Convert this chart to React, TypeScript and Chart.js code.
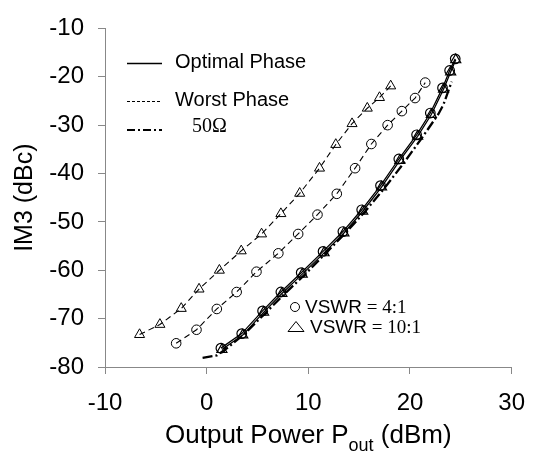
import React, { useEffect, useRef } from "react";
import { Chart, registerables } from "chart.js";

Chart.register(...registerables);

const SANS = "'Liberation Sans', Arial, Helvetica, sans-serif";
const SERIF = "'Liberation Serif', 'Times New Roman', serif";

// Worst phase, VSWR = 10:1 (triangles)
const worst10X = [-6.6, -4.6, -2.5, -0.75, 1.25, 3.4, 5.4, 7.3, 9.15, 11.1, 12.7, 14.3, 15.8, 17.0, 18.1];
const worst10Y = [-73.3, -71.2, -67.9, -63.9, -60.0, -56.0, -52.5, -48.3, -44.1, -38.9, -34.0, -29.7, -26.5, -24.3, -21.9];

// Worst phase, VSWR = 4:1 (circles)
const worst4X = [-3.0, -1.0, 1.0, 2.95, 4.9, 7.05, 9.0, 10.9, 12.8, 14.6, 16.2, 17.8, 19.2, 20.5, 21.5];
const worst4Y = [-75.1, -72.3, -68.0, -64.5, -60.3, -56.5, -52.5, -48.5, -44.2, -38.9, -33.9, -30.0, -27.1, -24.4, -21.2];

// Optimal phase, VSWR = 4:1 (circles)
const opt4X = [1.4, 3.45, 5.5, 7.3, 9.3, 11.45, 13.4, 15.25, 17.1, 18.9, 20.65, 22.0, 23.2, 23.9, 24.45];
const opt4Y = [-76.1, -73.1, -68.4, -64.5, -60.5, -56.1, -52.0, -47.5, -42.5, -37.0, -32.0, -27.5, -22.3, -18.7, -16.3];

// Optimal phase, VSWR = 10:1 (triangles)
const opt10X = [1.5, 3.55, 5.6, 7.4, 9.4, 11.55, 13.5, 15.35, 17.2, 19.0, 20.75, 22.1, 23.3, 24.0, 24.5];
const opt10Y = [-76.4, -73.4, -68.7, -64.8, -60.8, -56.4, -52.3, -47.8, -42.8, -37.3, -32.3, -27.8, -22.6, -19.0, -16.5];

// 50 Ohm
const ohm50X = [-0.4, 1.0, 2.2, 3.8, 5.8, 7.7, 9.7, 11.8, 13.7, 15.6, 17.5, 19.4, 21.15, 22.8, 23.3, 24.1];
const ohm50Y = [-78.1, -77.6, -75.8, -73.0, -68.8, -64.8, -60.8, -56.3, -52.2, -47.8, -43.0, -37.8, -32.7, -27.7, -25.7, -21.0];

const xTicks = [-10, 0, 10, 20, 30];
const yTicks = [-80, -70, -60, -50, -40, -30, -20, -10];

const zip = (xs: number[], ys: number[]) => xs.map((x, i) => ({ x, y: ys[i] }));

const overlayPlugin = {
  id: "overlay",
  afterDraw(chart: any) {
    const ctx: CanvasRenderingContext2D = chart.ctx;
    const area = chart.chartArea;
    ctx.save();
    ctx.fillStyle = "#000";
    ctx.strokeStyle = "#000";

    // X axis title with subscript
    const main1 = "Output Power P";
    const sub = "out";
    const main2 = " (dBm)";
    const mainFont = `26px ${SANS}`;
    const subFont = `18px ${SANS}`;
    ctx.font = mainFont;
    const w1 = ctx.measureText(main1).width;
    const w3 = ctx.measureText(main2).width;
    ctx.font = subFont;
    const w2 = ctx.measureText(sub).width;
    const total = w1 + w2 + w3;
    const x0 = (area.left + area.right) / 2 - total / 2;
    ctx.textBaseline = "alphabetic";
    ctx.textAlign = "left";
    ctx.font = mainFont;
    ctx.fillText(main1, x0, 443);
    ctx.font = subFont;
    ctx.fillText(sub, x0 + w1, 451);
    ctx.font = mainFont;
    ctx.fillText(main2, x0 + w1 + w2, 443);

    // Legend (line styles)
    const drawLine = (y: number, dash: number[], width: number) => {
      ctx.beginPath();
      ctx.setLineDash(dash);
      ctx.lineWidth = width;
      ctx.moveTo(127, y);
      ctx.lineTo(162, y);
      ctx.stroke();
      ctx.setLineDash([]);
    };
    drawLine(63.5, [], 1.3);
    drawLine(101.5, [3, 2], 1);
    drawLine(130, [8, 3, 2, 3], 2.2);
    ctx.textBaseline = "middle";
    ctx.font = `20px ${SANS}`;
    ctx.fillText("Optimal Phase", 175, 62);
    ctx.fillText("Worst Phase", 175, 100);
    ctx.font = `20px ${SERIF}`;
    ctx.fillText("50Ω", 192, 127);

    // Marker legend
    ctx.lineWidth = 1;
    ctx.beginPath();
    ctx.arc(295, 307, 4.5, 0, Math.PI * 2);
    ctx.stroke();
    ctx.beginPath();
    ctx.moveTo(288, 331.5);
    ctx.lineTo(304, 331.5);
    ctx.lineTo(296, 321.5);
    ctx.closePath();
    ctx.stroke();

    const vswr = (x: number, y: number, ratio: string) => {
      ctx.font = `19px ${SANS}`;
      ctx.fillText("VSWR", x, y);
      const w = ctx.measureText("VSWR").width;
      ctx.font = `19px ${SERIF}`;
      ctx.fillText(" = " + ratio, x + w, y);
    };
    vswr(305, 308, "4:1");
    vswr(310, 328, "10:1");
    ctx.restore();
  },
};

export default function App() {
  const canvasRef = useRef<HTMLCanvasElement | null>(null);

  useEffect(() => {
    if (!canvasRef.current) return;
    const common = {
      borderColor: "#000",
      pointBorderColor: "#000",
      pointBackgroundColor: "rgba(0,0,0,0)",
      fill: false,
      tension: 0,
      showLine: true,
    };
    const chart = new Chart(canvasRef.current, {
      type: "scatter",
      data: {
        datasets: [
          {
            ...common,
            label: "Worst 10:1",
            data: zip(worst10X, worst10Y),
            borderWidth: 1.1,
            borderDash: [6, 4],
            pointStyle: "triangle",
            pointRadius: 5.8,
            pointBorderWidth: 1,
          },
          {
            ...common,
            label: "Worst 4:1",
            data: zip(worst4X, worst4Y),
            borderWidth: 1.1,
            borderDash: [6, 4],
            pointStyle: "circle",
            pointRadius: 4.8,
            pointBorderWidth: 1,
          },
          {
            ...common,
            label: "Optimal 4:1",
            data: zip(opt4X, opt4Y),
            borderWidth: 1.3,
            pointStyle: "circle",
            pointRadius: 4.8,
            pointBorderWidth: 1.2,
          },
          {
            ...common,
            label: "Optimal 10:1",
            data: zip(opt10X, opt10Y),
            borderWidth: 1.3,
            pointStyle: "triangle",
            pointRadius: 5.8,
            pointBorderWidth: 1.2,
          },
          {
            ...common,
            label: "50Ω",
            data: zip(ohm50X, ohm50Y),
            borderWidth: 2.3,
            borderDash: [10, 3, 2, 3],
            pointRadius: 0,
            pointHoverRadius: 0,
          },
        ],
      },
      options: {
        animation: false,
        responsive: false,
        devicePixelRatio: 1,
        layout: { padding: { top: 17, right: 28, left: 0, bottom: 0 } },
        plugins: {
          legend: { display: false },
          tooltip: { enabled: false },
          title: { display: false },
        },
        scales: {
          x: {
            type: "linear",
            min: -10,
            max: 30,
            afterBuildTicks: (scale: any) => {
              scale.ticks = xTicks.map((v) => ({ value: v }));
            },
            afterFit: (scale: any) => {
              scale.height = 86;
            },
            ticks: {
              color: "#000",
              font: { size: 24, family: SANS },
              padding: 15,
              maxRotation: 0,
              autoSkip: false,
            },
            grid: {
              display: true,
              drawOnChartArea: false,
              drawTicks: true,
              tickLength: 7,
              color: "#888",
              lineWidth: 1,
            },
            border: { display: true, color: "#888", width: 1 },
            title: { display: false },
          },
          y: {
            type: "linear",
            min: -80,
            max: -10,
            afterBuildTicks: (scale: any) => {
              scale.ticks = yTicks.map((v) => ({ value: v }));
            },
            afterFit: (scale: any) => {
              scale.width = 105;
            },
            ticks: {
              color: "#000",
              font: { size: 24, family: SANS },
              padding: 14,
              autoSkip: false,
            },
            grid: {
              display: true,
              drawOnChartArea: false,
              drawTicks: true,
              tickLength: 7,
              color: "#888",
              lineWidth: 1,
            },
            border: { display: true, color: "#888", width: 1 },
            title: {
              display: true,
              text: "IM3 (dBc)",
              color: "#000",
              font: { size: 25, family: SANS },
              padding: 10,
            },
          },
        },
      },
      plugins: [overlayPlugin],
    });
    return () => chart.destroy();
  }, []);

  return (
    <div style={{ position: "absolute", left: 0, top: 0, width: 540, height: 453, background: "#fff" }}>
      <canvas ref={canvasRef} width={540} height={453} style={{ width: 540, height: 453, display: "block" }} />
    </div>
  );
}
